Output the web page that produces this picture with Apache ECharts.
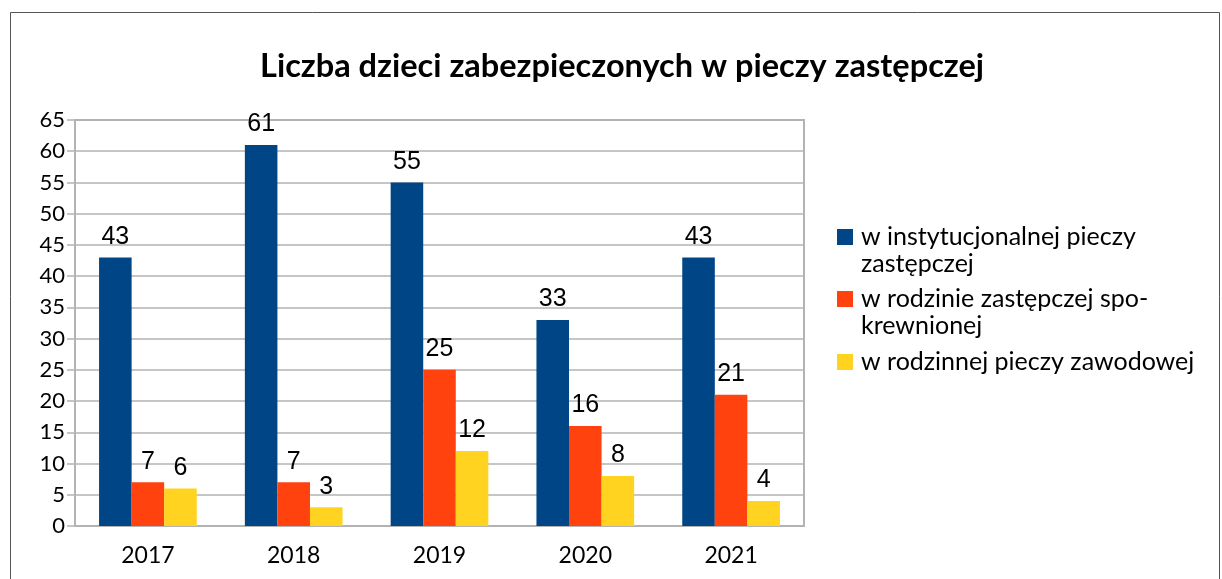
<!DOCTYPE html>
<html>
<head>
<meta charset="utf-8">
<script src="https://cdn.jsdelivr.net/npm/echarts@6/dist/echarts.min.js"></script>
<style>html,body{margin:0;padding:0;background:#fff}#c{width:1222px;height:579px}</style>
</head>
<body>
<div id="c"></div>
<script>
var title = 'Liczba dzieci zabezpieczonych w pieczy zastępczej';
var categories = ['2017', '2018', '2019', '2020', '2021'];
var seriesNames = ['w instytucjonalnej pieczy zastępczej', 'w rodzinie zastępczej spokrewnionej', 'w rodzinnej pieczy zawodowej'];
var legendLabels = ['w instytucjonalnej pieczy\nzastępczej', 'w rodzinie zastępczej spo-\nkrewnionej', 'w rodzinnej pieczy zawodowej'];
var instytucjonalna = [43, 61, 55, 33, 43];
var spokrewniona = [7, 7, 25, 16, 21];
var zawodowa = [6, 3, 12, 8, 4];
var colors = ['#004586', '#ff420e', '#ffd320'];
var yTicks = [0, 65, 5];

var chart = echarts.init(document.getElementById('c'));
var values = [instytucjonalna, spokrewniona, zawodowa];
var legendTops = [196.5, 258.5, 348.5];
var legends = seriesNames.map(function (n, i) {
  var lbl = legendLabels[i];
  var twoLine = lbl.indexOf('\n') >= 0;
  return {
    data: [n],
    orient: 'vertical',
    left: 837,
    top: legendTops[i],
    padding: 0,
    itemWidth: 16,
    itemHeight: 16,
    icon: 'rect',
    selectedMode: false,
    formatter: function () { return twoLine ? '\n' + lbl : lbl; },
    textStyle: { fontFamily: 'Lato', fontSize: 25, lineHeight: 27, color: '#000', padding: [0, 0, 0, 3] }
  };
});
chart.setOption({
  animation: false,
  backgroundColor: '#fff',
  color: colors,
  title: {
    text: title,
    left: 260,
    top: 50,
    padding: 0,
    textStyle: { fontFamily: 'Lato', fontWeight: 'bold', fontSize: 32.5, color: '#000' }
  },
  legend: legends,
  grid: {
    left: 75, right: 418, top: 120, bottom: 53,
    show: true, borderColor: '#b3b3b3', borderWidth: 2, containLabel: false
  },
  xAxis: {
    type: 'category',
    data: categories,
    axisLine: { show: true, lineStyle: { color: '#b3b3b3', width: 2 } },
    axisTick: { show: false },
    axisLabel: { fontFamily: 'Lato', fontSize: 23, color: '#000', margin: 18 }
  },
  yAxis: {
    type: 'value',
    min: yTicks[0], max: yTicks[1], interval: yTicks[2],
    axisLine: { show: false },
    axisTick: { show: true, length: 8, lineStyle: { color: '#b3b3b3', width: 1.5 } },
    splitLine: { lineStyle: { color: '#b3b3b3', width: 1.5 } },
    axisLabel: { fontFamily: 'Lato', fontSize: 22, color: '#000', margin: 10 }
  },
  series: seriesNames.map(function (n, i) {
    return {
      name: n,
      type: 'bar',
      data: values[i],
      barGap: '0%',
      barCategoryGap: '33%',
      itemStyle: { color: colors[i] },
      label: { show: true, position: 'top', distance: 8, fontFamily: 'Liberation Sans', fontSize: 25, color: '#000' }
    };
  }),
  graphic: [{
    type: 'rect',
    shape: { x: 10.5, y: 12.5, width: 1209, height: 600 },
    style: { fill: 'none', stroke: '#555', lineWidth: 1 },
    silent: true
  }]
});
</script>
</body>
</html>
